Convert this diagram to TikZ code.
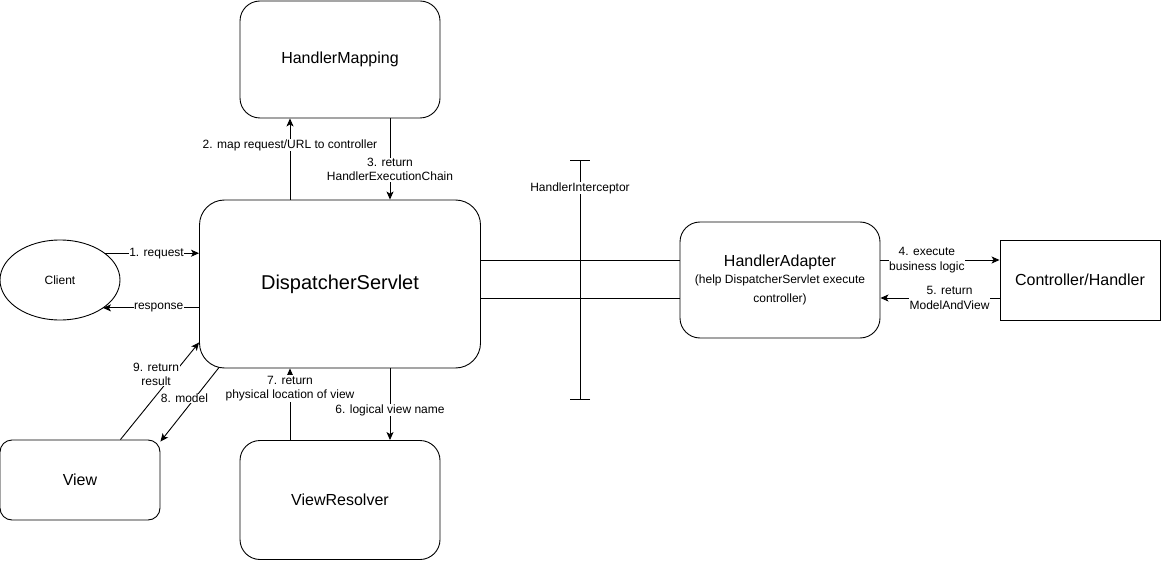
\documentclass[tikz,border=0pt]{standalone}
\usepackage{fontspec}
\setmainfont{Liberation Sans}
\usetikzlibrary{arrows.meta,shapes.geometric}
\newcommand{\subtext}{\fontsize{12}{14.5}\selectfont}
\begin{document}
\begin{tikzpicture}[
                x=1pt, y=-1pt, line width=0.9pt,
                roundbox/.style={
                    draw, rounded corners=20pt, inner sep=0pt, align=center,
                    font=\fontsize{16}{19}\selectfont
                },
                plainbox/.style={
                    draw, inner sep=0pt, font=\fontsize{16}{19}\selectfont
                },
                lbl/.style={
                    fill=white, inner sep=0.5pt, align=center,
                    font=\subtext
                },
                arr/.style={-{Stealth[length=8pt, width=7pt, inset=2pt]}}
            ]
            \useasboundingbox (0,0) rectangle (1161,561);
            \node[roundbox, minimum width=200pt, minimum height=117pt] (hm) at (340,59.5) {HandlerMapping};
            \node[roundbox, rounded corners=25pt, minimum width=281pt, minimum height=168pt,
                  font=\fontsize{20}{24}\selectfont] (ds) at (340,284) {DispatcherServlet};
            \node[draw, ellipse, minimum width=120pt, minimum height=80pt, inner sep=0pt, outer sep=0pt,
                  font=\subtext] (client) at (60,280) {Client};
            \node[roundbox, rounded corners=12pt, minimum width=160pt, minimum height=80pt] (view) at (80,480) {View};
            \node[roundbox, minimum width=200pt, minimum height=119pt] (vr) at (340,500) {ViewResolver};
            \node[roundbox, minimum width=200pt, minimum height=116pt] (ha) at (780,280)
                {HandlerAdapter\\[-2pt]\subtext (help DispatcherServlet execute\\\subtext controller)};
            \node[plainbox, minimum width=160pt, minimum height=80pt] (ch) at (1080,280) {Controller/Handler};

            \coordinate (upper) at ([yshift=20pt]ha.center);
            \coordinate (lower) at ([yshift=-18pt]ha.center);
            \coordinate (hiTop) at (580,160);
            \coordinate (hiBot) at (580,400);

            % interceptor
            \draw (upper -| ds.east) -- (upper -| ha.west);
            \draw (lower -| ds.east) -- (lower -| ha.west);
            \draw[{Bar[width=20pt]}-{Bar[width=20pt]}] (hiTop) -- (hiBot) node[lbl, pos=0.117] {HandlerInterceptor};

            % requests
            \draw[arr] (client.31.5) -- (client.31.5 -| ds.west) node[lbl, pos=0.55] {1. request};
            \draw[arr] (client.-33 -| ds.west) -- (client.-33) node[lbl, pos=0.42] {response};
            \draw[arr] ([xshift=-50pt]ds.north) -- ([xshift=-50pt]hm.south) node[lbl, pos=0.67] {2. map request/URL to controller};
            \draw[arr] ([xshift=50pt]hm.south) -- ([xshift=50pt]ds.north) node[lbl, pos=0.63] {3. return\\HandlerExecutionChain};
            \draw[arr] (upper -| ha.east) -- (upper -| ch.west) node[lbl, pos=0.39] {4. execute\\business logic};
            \draw[arr] (lower -| ch.west) -- (lower -| ha.east) node[lbl, pos=0.42] {5. return\\ModelAndView};
            \draw[arr] ([xshift=50pt]ds.south) -- ([xshift=50pt]vr.north) node[lbl, pos=0.58] {6. logical view name};
            \draw[arr] ([xshift=-50pt]vr.north) -- ([xshift=-50pt]ds.south) node[lbl, pos=0.72] {7. return\\physical location of view};
            \draw[arr] ([xshift=20pt, yshift=1pt]ds.south west) -- ([yshift=-2pt]view.north east) node[lbl, pos=0.42, xshift=-10pt] {8. model};
            \draw[arr] ([xshift=-40pt]view.north east) -- ([yshift=26pt]ds.south west) node[lbl, pos=0.67, xshift=-17pt] {9. return\\result};
            \end{tikzpicture}
\end{document}
